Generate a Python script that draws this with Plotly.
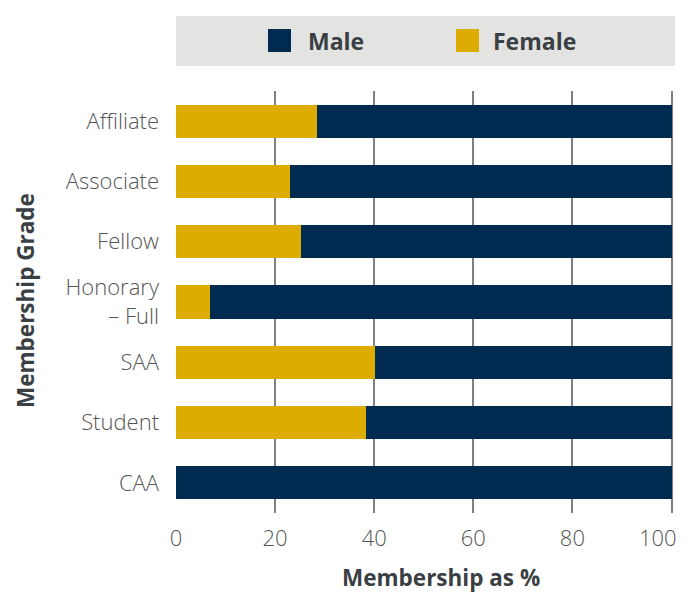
import plotly.graph_objects as go

categories = ["Affiliate", "Associate", "Fellow", "Honorary<br>– Full", "SAA", "Student", "CAA"]
female = [28.5, 23.1, 25.3, 6.8, 40.1, 38.3, 0.0]
male = [71.5, 76.9, 74.7, 93.2, 59.9, 61.7, 100.0]
x_ticks = [0, 20, 40, 60, 80, 100]
x_tick_labels = ["0", "20", "40", "60", "80", "100"]

MALE_C = "#002b50"
FEMALE_C = "#dcac00"
TEXT_C = "#3a3f44"
TICK_C = "#555"
FONT = "Open Sans"

W, H = 688, 592
L, R, T, B = 176, 14, 91, 79
PW, PH = W - L - R, H - T - B


def px(x):
    return (x - L) / PW


def py(y):
    return (H - B - y) / PH


fig = go.Figure()
fig.add_trace(go.Bar(y=categories, x=female, orientation="h", name="Female",
                     marker=dict(color=FEMALE_C, line=dict(width=0)), showlegend=False))
fig.add_trace(go.Bar(y=categories, x=male, orientation="h", name="Male",
                     marker=dict(color=MALE_C, line=dict(width=0)), showlegend=False))

shapes = [
    dict(type="rect", xref="paper", yref="paper", x0=px(176), x1=px(675), y0=py(66), y1=py(16),
         fillcolor="#e3e3e1", line=dict(width=0), layer="below"),
    dict(type="rect", xref="paper", yref="paper", x0=px(268), x1=px(291), y0=py(52), y1=py(29),
         fillcolor=MALE_C, line=dict(width=0)),
    dict(type="rect", xref="paper", yref="paper", x0=px(456), x1=px(479), y0=py(52), y1=py(29),
         fillcolor=FEMALE_C, line=dict(width=0)),
]

annotations = [
    dict(text="<b>Male</b>", xref="paper", yref="paper", x=px(306), y=py(41), xanchor="left",
         yanchor="middle", showarrow=False, font=dict(family=FONT, size=23, color=TEXT_C)),
    dict(text="<b>Female</b>", xref="paper", yref="paper", x=px(491), y=py(41), xanchor="left",
         yanchor="middle", showarrow=False, font=dict(family=FONT, size=23, color=TEXT_C)),
    dict(text="<b>Membership as %</b>", xref="paper", yref="paper", x=px(441), y=py(577),
         xanchor="center", yanchor="middle", showarrow=False,
         font=dict(family=FONT, size=22.5, color=TEXT_C)),
    dict(text="<b>Membership Grade</b>", xref="paper", yref="paper", x=px(25), y=py(301),
         xanchor="center", yanchor="middle", showarrow=False, textangle=-90,
         font=dict(family=FONT, size=22.5, color=TEXT_C)),
    # last tick label, nudged inward so it stays inside the page as in the reference
    dict(text=x_tick_labels[-1], xref="x", yref="paper", x=x_ticks[-1], y=py(537),
         xanchor="right", yanchor="middle", xshift=7, showarrow=False,
         font=dict(family=FONT, size=22, color=TICK_C, weight=300)),
]

fig.update_layout(
    width=W, height=H,
    margin=dict(l=L, r=R, t=T, b=B, pad=0, autoexpand=False),
    barmode="stack", bargap=0.45,
    plot_bgcolor="white", paper_bgcolor="white",
    shapes=shapes, annotations=annotations,
    font=dict(family=FONT, color=TICK_C),
    xaxis=dict(range=[0, 100.5], tickvals=x_ticks, ticktext=x_tick_labels[:-1] + [""],
               showgrid=True, gridcolor="#7f7f7f",
               gridwidth=1.5, zeroline=False, showline=False, ticks="", automargin=False,
               tickfont=dict(family=FONT, size=22, color=TICK_C, weight=300),
               ticklabelstandoff=10, fixedrange=True),
    yaxis=dict(autorange="reversed", showgrid=False, zeroline=False, showline=False, ticks="",
               automargin=False,
               tickfont=dict(family=FONT, size=22, color=TICK_C, weight=300),
               ticklabelstandoff=16),
)

fig.write_html("out.html", config={"displayModeBar": False},
               post_script="document.body.style.margin='0';document.body.style.overflow='hidden';")
